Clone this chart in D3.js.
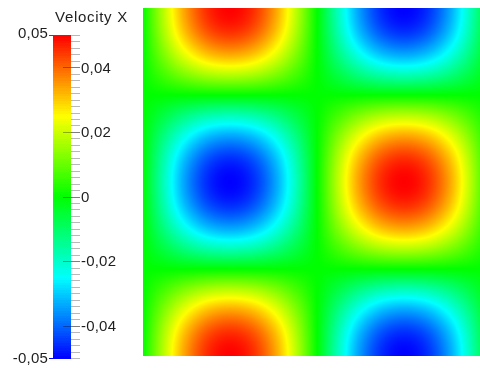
<!DOCTYPE html>
<html>
<head>
<meta charset="utf-8">
<script src="https://cdn.jsdelivr.net/npm/d3@7"></script>
<style>
  body { margin: 0; background: #fff; }
  #wrap { position: relative; width: 480px; height: 368px; overflow: hidden; }
  #wrap canvas, #wrap svg { position: absolute; left: 0; top: 0; }
  text { font-family: "Liberation Sans", Arial, sans-serif; fill: #1e1e1e; }
</style>
</head>
<body>
<div id="wrap"></div>
<script>
// Nodal values of the x-velocity on a 17 x 17 grid (rows top to bottom, columns left to right)
const velocityX = [
  [0, 0.0191, 0.0354, 0.0462, 0.0500, 0.0462, 0.0354, 0.0191, 0, -0.0191, -0.0354, -0.0462, -0.0500, -0.0462, -0.0354, -0.0191, 0],
  [0, 0.0177, 0.0327, 0.0427, 0.0462, 0.0427, 0.0327, 0.0177, 0, -0.0177, -0.0327, -0.0427, -0.0462, -0.0427, -0.0327, -0.0177, 0],
  [0, 0.0135, 0.0250, 0.0327, 0.0354, 0.0327, 0.0250, 0.0135, 0, -0.0135, -0.0250, -0.0327, -0.0354, -0.0327, -0.0250, -0.0135, 0],
  [0, 0.0073, 0.0135, 0.0177, 0.0191, 0.0177, 0.0135, 0.0073, 0, -0.0073, -0.0135, -0.0177, -0.0191, -0.0177, -0.0135, -0.0073, 0],
  [0, 0, 0, 0, 0, 0, 0, 0, 0, 0, 0, 0, 0, 0, 0, 0, 0],
  [0, -0.0073, -0.0135, -0.0177, -0.0191, -0.0177, -0.0135, -0.0073, 0, 0.0073, 0.0135, 0.0177, 0.0191, 0.0177, 0.0135, 0.0073, 0],
  [0, -0.0135, -0.0250, -0.0327, -0.0354, -0.0327, -0.0250, -0.0135, 0, 0.0135, 0.0250, 0.0327, 0.0354, 0.0327, 0.0250, 0.0135, 0],
  [0, -0.0177, -0.0327, -0.0427, -0.0462, -0.0427, -0.0327, -0.0177, 0, 0.0177, 0.0327, 0.0427, 0.0462, 0.0427, 0.0327, 0.0177, 0],
  [0, -0.0191, -0.0354, -0.0462, -0.0500, -0.0462, -0.0354, -0.0191, 0, 0.0191, 0.0354, 0.0462, 0.0500, 0.0462, 0.0354, 0.0191, 0],
  [0, -0.0177, -0.0327, -0.0427, -0.0462, -0.0427, -0.0327, -0.0177, 0, 0.0177, 0.0327, 0.0427, 0.0462, 0.0427, 0.0327, 0.0177, 0],
  [0, -0.0135, -0.0250, -0.0327, -0.0354, -0.0327, -0.0250, -0.0135, 0, 0.0135, 0.0250, 0.0327, 0.0354, 0.0327, 0.0250, 0.0135, 0],
  [0, -0.0073, -0.0135, -0.0177, -0.0191, -0.0177, -0.0135, -0.0073, 0, 0.0073, 0.0135, 0.0177, 0.0191, 0.0177, 0.0135, 0.0073, 0],
  [0, 0, 0, 0, 0, 0, 0, 0, 0, 0, 0, 0, 0, 0, 0, 0, 0],
  [0, 0.0073, 0.0135, 0.0177, 0.0191, 0.0177, 0.0135, 0.0073, 0, -0.0073, -0.0135, -0.0177, -0.0191, -0.0177, -0.0135, -0.0073, 0],
  [0, 0.0135, 0.0250, 0.0327, 0.0354, 0.0327, 0.0250, 0.0135, 0, -0.0135, -0.0250, -0.0327, -0.0354, -0.0327, -0.0250, -0.0135, 0],
  [0, 0.0177, 0.0327, 0.0427, 0.0462, 0.0427, 0.0327, 0.0177, 0, -0.0177, -0.0327, -0.0427, -0.0462, -0.0427, -0.0327, -0.0177, 0],
  [0, 0.0191, 0.0354, 0.0462, 0.0500, 0.0462, 0.0354, 0.0191, 0, -0.0191, -0.0354, -0.0462, -0.0500, -0.0462, -0.0354, -0.0191, 0]
];

const valueRange = [-0.05, 0.05];
const majorTicks = [0.04, 0.02, 0, -0.02, -0.04];
const majorLabels = ["0,04", "0,02", "0", "-0,02", "-0,04"];
const rangeLabels = ["-0,05", "0,05"];
const legendTitle = "Velocity X";

const W = 480, H = 368;
const ny = velocityX.length, nx = velocityX[0].length;

// Field occupies a square region; part of it runs past the right edge of the view
const xScale = d3.scaleLinear().domain([0, nx - 1]).range([143, 491]);
const yScale = d3.scaleLinear().domain([0, ny - 1]).range([8, 356]);

// Blue-to-red rainbow (HSV hue sweep 240 -> 0)
const color = d3.scaleSequential(t => d3.hsl((1 - t) * 240, 1, 0.5).toString())
  .domain(valueRange).clamp(true);

const wrap = d3.select("#wrap");
const canvas = wrap.append("canvas").attr("width", W).attr("height", H).node();
const ctx = canvas.getContext("2d");

// lookup table for the colour map
const LUT_N = 1024;
const lut = d3.range(LUT_N).map(k => {
  const c = d3.rgb(color(valueRange[0] + (valueRange[1] - valueRange[0]) * k / (LUT_N - 1)));
  return [c.r, c.g, c.b];
});

// node access with quadratic extrapolation one step beyond the edges
function node(j, i) {
  if (i < 0) return 3 * node(j, 0) - 3 * node(j, 1) + node(j, 2);
  if (i > nx - 1) return 3 * node(j, nx - 1) - 3 * node(j, nx - 2) + node(j, nx - 3);
  if (j < 0) return 3 * node(0, i) - 3 * node(1, i) + node(2, i);
  if (j > ny - 1) return 3 * node(ny - 1, i) - 3 * node(ny - 2, i) + node(ny - 3, i);
  return velocityX[j][i];
}
function cr(p0, p1, p2, p3, t) {
  return 0.5 * (2 * p1 + (-p0 + p2) * t + (2 * p0 - 5 * p1 + 4 * p2 - p3) * t * t +
    (-p0 + 3 * p1 - 3 * p2 + p3) * t * t * t);
}
function sample(gx, gy) {
  const i = Math.max(0, Math.min(nx - 2, Math.floor(gx)));
  const j = Math.max(0, Math.min(ny - 2, Math.floor(gy)));
  const tx = gx - i, ty = gy - j;
  const rows = [];
  for (let dj = -1; dj <= 2; dj++) {
    rows.push(cr(node(j + dj, i - 1), node(j + dj, i), node(j + dj, i + 1), node(j + dj, i + 2), tx));
  }
  return cr(rows[0], rows[1], rows[2], rows[3], ty);
}

const px0 = Math.round(xScale.range()[0]), px1 = Math.min(W, Math.round(xScale.range()[1]));
const py0 = Math.round(yScale.range()[0]), py1 = Math.round(yScale.range()[1]);
const img = ctx.createImageData(px1 - px0, py1 - py0);
for (let py = py0; py < py1; py++) {
  const gy = yScale.invert(py + 0.5);
  for (let px = px0; px < px1; px++) {
    const gx = xScale.invert(px + 0.5);
    const v = sample(gx, gy);
    const t = Math.max(0, Math.min(1, (v - valueRange[0]) / (valueRange[1] - valueRange[0])));
    const c = lut[Math.round(t * (LUT_N - 1))];
    const o = ((py - py0) * (px1 - px0) + (px - px0)) * 4;
    img.data[o] = c[0]; img.data[o + 1] = c[1]; img.data[o + 2] = c[2]; img.data[o + 3] = 255;
  }
}
ctx.putImageData(img, px0, py0);

// ---- colour legend ----
const svg = wrap.append("svg").attr("width", W).attr("height", H);
const barX = 53, barW = 18;
const cb = d3.scaleLinear().domain(valueRange).range([358, 35]);

const steps = 128;
const stepV = (valueRange[1] - valueRange[0]) / steps;
svg.append("g").selectAll("rect")
  .data(d3.range(steps).map(k => valueRange[0] + k * stepV))
  .join("rect")
  .attr("x", barX).attr("width", barW)
  .attr("y", d => cb(d + stepV))
  .attr("height", d => cb(d) - cb(d + stepV) + 0.5)
  .attr("fill", d => color(d + stepV / 2))
  .attr("shape-rendering", "crispEdges");

// minor ticks
svg.append("g").selectAll("line")
  .data(cb.ticks(50))
  .join("line")
  .attr("x1", barX + barW).attr("x2", 80)
  .attr("y1", d => Math.round(cb(d)) + 0.5).attr("y2", d => Math.round(cb(d)) + 0.5)
  .attr("stroke", "rgba(0,0,0,0.28)").attr("stroke-width", 1);

// major ticks
svg.append("g").selectAll("line")
  .data(majorTicks)
  .join("line")
  .attr("x1", 63).attr("x2", 80)
  .attr("y1", d => Math.round(cb(d)) + 0.5).attr("y2", d => Math.round(cb(d)) + 0.5)
  .attr("stroke", "rgba(0,0,0,0.32)").attr("stroke-width", 1);

svg.append("g").selectAll("text")
  .data(majorTicks)
  .join("text")
  .attr("x", 81).attr("y", d => cb(d) + 5.3)
  .attr("font-size", 15)
  .attr("letter-spacing", 0.2)
  .text((d, i) => majorLabels[i]);

// range markers and labels at both ends of the bar
svg.append("g").selectAll("line")
  .data(valueRange)
  .join("line")
  .attr("x1", 49).attr("x2", barX)
  .attr("y1", d => Math.round(cb(d)) + 0.5).attr("y2", d => Math.round(cb(d)) + 0.5)
  .attr("stroke", d => color(d)).attr("stroke-width", 1);

svg.append("g").selectAll("text")
  .data(valueRange)
  .join("text")
  .attr("x", 48).attr("y", d => cb(d) + (d < 0 ? 5.3 : 3.4))
  .attr("text-anchor", "end")
  .attr("font-size", 15)
  .attr("letter-spacing", 0.2)
  .text((d, i) => rangeLabels[i]);

svg.append("text")
  .attr("x", 55).attr("y", 22)
  .attr("font-size", 15)
  .attr("letter-spacing", 0.7)
  .text(legendTitle);
</script>
</body>
</html>
